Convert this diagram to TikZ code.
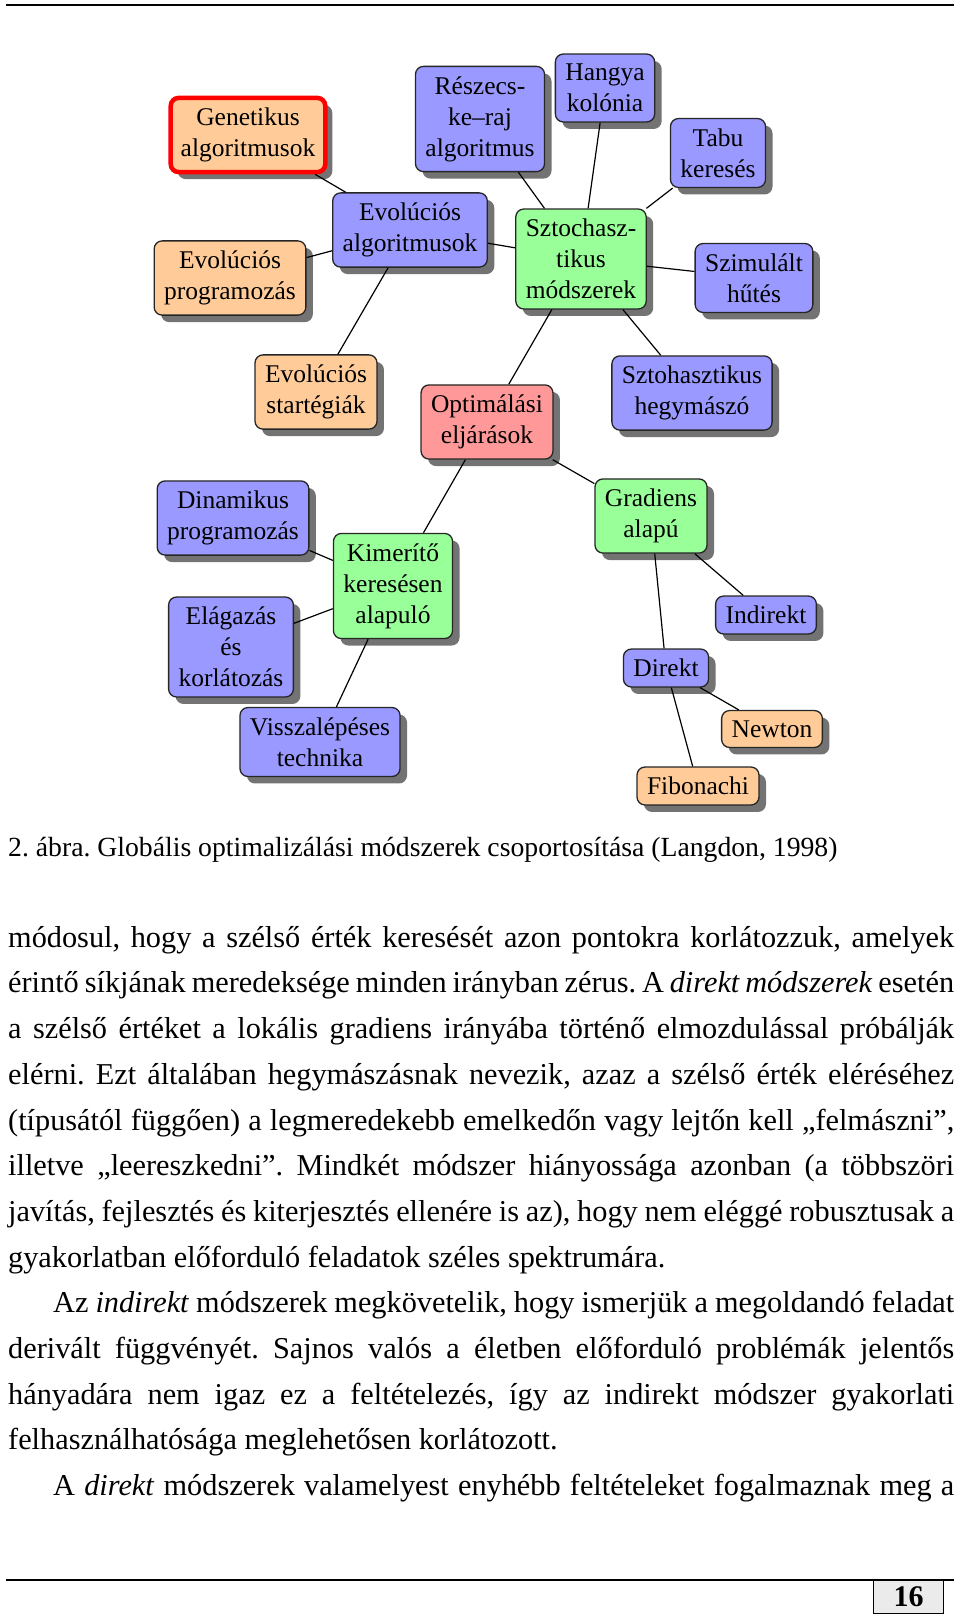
\documentclass[tikz,border=0pt]{standalone}
\usepackage{fontspec}
\setmainfont{Liberation Serif}
\usetikzlibrary{shadows}

\definecolor{peach}{RGB}{255,204,153}
\definecolor{lilac}{RGB}{153,153,255}
\definecolor{mint}{RGB}{153,255,153}
\definecolor{rose}{RGB}{255,153,153}

\frenchspacing

\begin{document}
\begin{tikzpicture}[x=1pt, y=-1pt,
  methodbox/.style={draw=black!85, line width=1.3pt, rounded corners=8pt,
    align=center, inner xsep=10pt, inner ysep=10pt,
    font=\fontsize{25.5}{31}\selectfont,
    drop shadow={shadow xshift=7pt, shadow yshift=-7pt, fill=black!55, opacity=1}},
  peachbox/.style={methodbox, fill=peach},
  lilacbox/.style={methodbox, fill=lilac},
  mintbox/.style={methodbox, fill=mint},
  rosebox/.style={methodbox, fill=rose}]
  \useasboundingbox (0,0) rectangle (960,1616);
  \draw[line width=2pt] (6,5) -- (954,5);

  % evolucios ag
  \node[peachbox, draw=red, line width=4.5pt] (gen) at (248,135) {Genetikus\\algoritmusok};
  \node[peachbox] (evprog) at (230,278) {Evolúciós\\programozás};
  \node[lilacbox] (evalg) at (410,230) {Evolúciós\\algoritmusok};
  \node[peachbox] (evstrat) at (316,392) {Evolúciós\\startégiák};

  % sztochasztikus ag
  \node[lilacbox] (swarm) at (480,119) {Részecs-\\ke–raj\\algoritmus};
  \node[lilacbox] (ant) at (605,88) {Hangya\\kolónia};
  \node[lilacbox] (tabu) at (718,153) {Tabu\\keresés};
  \node[mintbox] (stoch) at (581,259) {Sztochasz-\\tikus\\módszerek};
  \node[lilacbox] (anneal) at (754,278) {Szimulált\\hűtés};
  \node[lilacbox] (climb) at (692,393) {Sztohasztikus\\hegymászó};

  \node[rosebox] (optim) at (487,422) {Optimálási\\eljárások};

  % kimerito kereses
  \node[lilacbox] (dynprog) at (233,518) {Dinamikus\\programozás};
  \node[mintbox] (exhaust) at (393,586) {Kimerítő\\keresésen\\alapuló};
  \node[lilacbox] (bnb) at (231,647) {Elágazás\\és\\korlátozás};
  \node[lilacbox] (backtrack) at (320,742) {Visszalépéses\\technika};

  % gradiens alapu
  \node[mintbox] (grad) at (651,516) {Gradiens\\alapú};
  \node[lilacbox] (indirect) at (766,615) {Indirekt};
  \node[lilacbox] (direct) at (666,668) {Direkt};
  \node[peachbox] (newton) at (772,729) {Newton};
  \node[peachbox] (fib) at (698,786) {Fibonachi};

  \foreach \from/\to in {gen/evalg, evprog/evalg, evalg/evstrat, evalg/stoch,
      swarm/stoch, ant/stoch, tabu/stoch, anneal/stoch, climb/stoch,
      stoch/optim, optim/exhaust, optim/grad, exhaust/dynprog, exhaust/bnb,
      exhaust/backtrack, grad/indirect, grad/direct, direct/newton, direct/fib}
    \draw[line width=1.2pt] (\from) -- (\to);

  \node[anchor=base west, inner sep=0pt, font=\fontsize{27.7}{33}\selectfont] (caption)
    at (8,856) {2. ábra. Globális optimalizálási módszerek csoportosítása (Langdon, 1998)};

  \node[anchor=north west, inner sep=0pt, text width=946pt, align=justify,
        font=\fontsize{30.3}{45.7}\selectfont] (body) at (8,915) {%
    \parindent=45pt\tolerance=10000\hyphenpenalty=10000\exhyphenpenalty=10000%
    \noindent\strut módosul, hogy a szélső érték keresését azon pontokra korlátozzuk, amelyek\linebreak
    érintő síkjának meredeksége minden irányban zérus. A \textit{direkt módszerek} esetén\linebreak
    a szélső értéket a lokális gradiens irányába történő elmozdulással próbálják\linebreak
    elérni. Ezt általában hegymászásnak nevezik, azaz a szélső érték eléréséhez\linebreak
    (típusától függően) a legmeredekebb emelkedőn vagy lejtőn kell „felmászni”,\linebreak
    illetve „leereszkedni”. Mindkét módszer hiányossága azonban (a többszöri\linebreak
    javítás, fejlesztés és kiterjesztés ellenére is az), hogy nem eléggé robusztusak a\linebreak
    gyakorlatban előforduló feladatok széles spektrumára.\par
    \indent Az \textit{indirekt} módszerek megkövetelik, hogy ismerjük a megoldandó feladat\linebreak
    derivált függvényét. Sajnos valós a életben előforduló problémák jelentős\linebreak
    hányadára nem igaz ez a feltételezés, így az indirekt módszer gyakorlati\linebreak
    felhasználhatósága meglehetősen korlátozott.\par
    \indent A \textit{direkt} módszerek valamelyest enyhébb feltételeket fogalmaznak meg a\parfillskip=0pt\par};

  \draw[line width=1.5pt] (6,1580) -- (954,1580);
  \node[draw, fill=black!8, line width=1pt, minimum width=70pt, minimum height=33pt,
        inner sep=0pt, anchor=north east, font=\bfseries\fontsize{30}{30}\selectfont]
    (pagenum) at (944,1580) {16};
\end{tikzpicture}
\end{document}
